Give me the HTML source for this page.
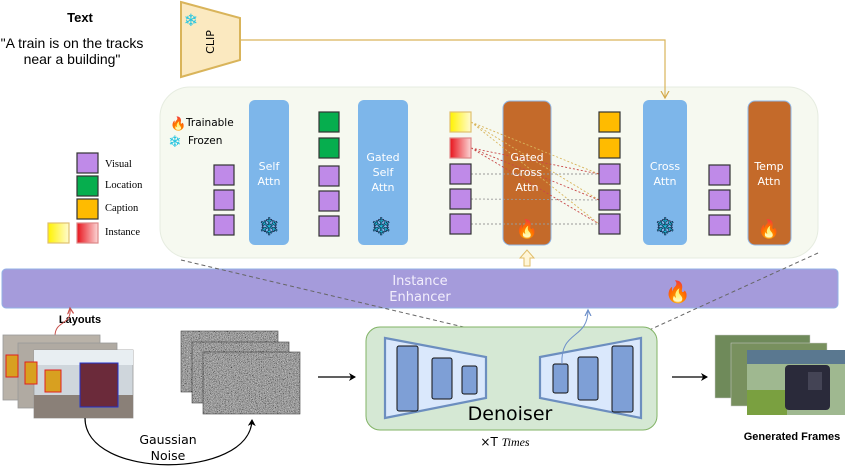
<!DOCTYPE html>
<html><head><meta charset="utf-8"><style>
html,body{margin:0;padding:0;background:#fff;width:856px;height:472px;overflow:hidden}
svg{display:block}
.t{font-family:"DejaVu Sans","Liberation Sans",sans-serif}
</style></head><body>
<svg width="856" height="472" viewBox="0 0 856 472" xmlns="http://www.w3.org/2000/svg" class="t">
<defs>
<linearGradient id="gy" x1="0" x2="1"><stop offset="0" stop-color="#fff200"/><stop offset="1" stop-color="#fffbd0"/></linearGradient>
<linearGradient id="gr" x1="0" x2="1"><stop offset="0" stop-color="#e8141c"/><stop offset="1" stop-color="#fbd6d6"/></linearGradient>
<filter id="nz" x="0" y="0" width="1" height="1"><feTurbulence type="fractalNoise" baseFrequency="1.5" numOctaves="1" seed="3"/><feColorMatrix type="matrix" values="0.33 0.33 0.33 0 0 0.33 0.33 0.33 0 0 0.33 0.33 0.33 0 0 0 0 0 0 1"/><feComponentTransfer><feFuncR type="linear" slope="2.2" intercept="-0.75"/><feFuncG type="linear" slope="2.2" intercept="-0.75"/><feFuncB type="linear" slope="2.2" intercept="-0.75"/></feComponentTransfer></filter>
<marker id="ab" markerWidth="8" markerHeight="8" refX="6" refY="4" orient="auto" markerUnits="userSpaceOnUse"><path d="M0,0 L7,4 L0,8 L2,4Z" fill="#000"/></marker>
<marker id="ao" markerWidth="10" markerHeight="10" refX="7" refY="5" orient="auto" markerUnits="userSpaceOnUse"><path d="M0,1 L7,5 L0,9" fill="none" stroke="#d2a84a" stroke-width="1.2"/></marker>
<marker id="abl" markerWidth="8" markerHeight="8" refX="6" refY="4" orient="auto" markerUnits="userSpaceOnUse"><path d="M0,1 L6,4 L0,7" fill="none" stroke="#6d8fc9" stroke-width="1.2"/></marker>
<marker id="ar" markerWidth="8" markerHeight="8" refX="6" refY="4" orient="auto" markerUnits="userSpaceOnUse"><path d="M0,1 L6,4 L0,7" fill="none" stroke="#c8504a" stroke-width="1.2"/></marker>
</defs>

<text x="80" y="22" font-size="13" font-weight="bold" text-anchor="middle" font-family="Liberation Sans,sans-serif">Text</text>
<text x="72" y="48" font-size="14" text-anchor="middle" font-family="Liberation Sans,sans-serif">"A train is on the tracks</text>
<text x="72" y="64" font-size="14" text-anchor="middle" font-family="Liberation Sans,sans-serif">near a building"</text>

<path d="M181,2 L240,18 L240,60 L181,77Z" fill="#fbe9c0" stroke="#d9b45a" stroke-width="2"/>
<text x="0" y="0" font-size="11" text-anchor="middle" transform="translate(214,42) rotate(-90)">CLIP</text>
<text x="191" y="26" font-size="17" fill="#27c5e0" text-anchor="middle">❄</text>

<rect x="160" y="87" width="658" height="171" rx="30" fill="#f6f9f0" stroke="#e6ece0"/>
<path d="M240,40 L665,40 L665,98" fill="none" stroke="#d9b45a" stroke-width="1.2" marker-end="url(#ao)"/>
<text x="170" y="128" font-size="13">🔥</text>
<text x="186" y="126" font-size="10.5">Trainable</text>
<text x="175" y="147" font-size="16" fill="#27c5e0" text-anchor="middle">❄</text>
<text x="188" y="144" font-size="10.5">Frozen</text>

<g stroke="#333" stroke-width="1.2">
<rect x="77" y="153" width="21" height="20" fill="#bf8ae8"/>
<rect x="77" y="176" width="21" height="20" fill="#06ae4e"/>
<rect x="77" y="199" width="21" height="20" fill="#ffbb00"/>
<rect x="77" y="223" width="21" height="20" fill="url(#gr)" stroke="#d88"/>
<rect x="48" y="223" width="21" height="20" fill="url(#gy)" stroke="#e0c070"/>
</g>
<g font-family="Liberation Serif,serif" font-size="10.5">
<text x="105" y="167">Visual</text><text x="105" y="188">Location</text><text x="105" y="211">Caption</text><text x="105" y="235">Instance</text>
</g>

<rect x="249" y="100" width="40" height="145" rx="6" fill="#7db6ea"/>
<rect x="358" y="100" width="50" height="145" rx="6" fill="#7db6ea"/>
<rect x="503" y="101" width="48" height="144" rx="7" fill="#c46a2a" stroke="#8fb6e6"/>
<rect x="643" y="100" width="44" height="145" rx="6" fill="#7db6ea"/>
<rect x="748" y="101" width="43" height="144" rx="7" fill="#c46a2a" stroke="#8fb6e6"/>

<g stroke-dasharray="2,2" stroke-width="0.9" fill="none">
<g stroke="#d8b45a"><path d="M471,122 L599,174 M471,122 L599,200 M471,122 L599,224"/></g>
<g stroke="#c84848"><path d="M471,148 L599,174 M471,148 L599,200 M471,148 L599,224"/></g>
<g stroke="#999"><path d="M471,174 L599,174 M471,199 L599,200 M471,224 L599,224"/></g>
</g>

<g fill="#fff" font-size="11" text-anchor="middle">
<text x="269" y="170">Self</text><text x="269" y="185">Attn</text>
<text x="383" y="161">Gated</text><text x="383" y="176">Self</text><text x="383" y="191">Attn</text>
<text x="527" y="161">Gated</text><text x="527" y="176">Cross</text><text x="527" y="191">Attn</text>
<text x="665" y="170">Cross</text><text x="665" y="185">Attn</text>
<text x="769" y="170">Temp</text><text x="769" y="185">Attn</text>
</g>
<g font-size="24" text-anchor="middle" fill="#1fc0dc" stroke="#113" stroke-width="0.6">
<text x="269" y="235">❄</text><text x="381" y="235">❄</text><text x="665" y="235">❄</text>
</g>
<text x="527" y="235" font-size="18" text-anchor="middle">🔥</text>
<text x="769" y="235" font-size="18" text-anchor="middle">🔥</text>

<g stroke="#333" stroke-width="1.2" fill="#bf8ae8">
<rect x="214" y="165" width="20" height="20"/><rect x="214" y="190" width="20" height="20"/><rect x="214" y="215" width="20" height="20"/>
<rect x="319" y="112" width="20" height="20" fill="#06ae4e"/><rect x="319" y="138" width="20" height="20" fill="#06ae4e"/>
<rect x="319" y="166" width="20" height="20"/><rect x="319" y="191" width="20" height="20"/><rect x="319" y="216" width="20" height="20"/>
<rect x="450" y="112" width="21" height="20" fill="url(#gy)" stroke="#e0c070"/><rect x="450" y="138" width="21" height="20" fill="url(#gr)" stroke="#d88"/>
<rect x="450" y="164" width="21" height="20"/><rect x="450" y="189" width="21" height="20"/><rect x="450" y="214" width="21" height="20"/>
<rect x="599" y="112" width="21" height="20" fill="#ffbb00"/><rect x="599" y="138" width="21" height="20" fill="#ffbb00"/>
<rect x="599" y="164" width="21" height="20"/><rect x="599" y="190" width="21" height="20"/><rect x="599" y="214" width="21" height="20"/>
<rect x="709" y="165" width="21" height="20"/><rect x="709" y="190" width="21" height="20"/><rect x="709" y="215" width="21" height="20"/>
</g>

<path d="M524,266 L524,258 L520,258 L527,250 L534,258 L530,258 L530,266Z" fill="#fff6d8" stroke="#e0bd6a"/>

<rect x="2" y="269" width="836" height="39" rx="4" fill="#a59bdb" stroke="#93b2e6"/>
<text x="420" y="285" font-size="13" fill="#f2eefc" text-anchor="middle">Instance</text>
<text x="420" y="301" font-size="13" fill="#f2eefc" text-anchor="middle">Enhancer</text>
<text x="678" y="299" font-size="21" text-anchor="middle">🔥</text>

<path d="M181,260 L590,357 M818,253 L590,357" stroke="#666" stroke-width="1" stroke-dasharray="4,3" fill="none"/>

<text x="80" y="323" font-size="11" font-weight="bold" text-anchor="middle" font-family="Liberation Sans,sans-serif">Layouts</text>
<path d="M55,336 C55,320 72,326 70,308" stroke="#c8504a" fill="none" stroke-width="1" marker-end="url(#ar)"/>
<g stroke="#999" stroke-width="0.8">
<rect x="3" y="335" width="97" height="65" fill="#b9b2a8"/>
<rect x="18" y="343" width="99" height="65" fill="#b0aaa2"/>
<rect x="34" y="350" width="99" height="68" fill="#cfd6dc"/>
</g>
<rect x="34" y="395" width="99" height="23" fill="#8a8078"/>
<rect x="34" y="350" width="99" height="15" fill="#e8eef2"/>
<rect x="80" y="363" width="38" height="44" fill="#6b2a3a" stroke="#2233cc" stroke-width="1"/>
<rect x="6" y="355" width="12" height="22" fill="#d8a020" stroke="#e02020"/>
<rect x="25" y="362" width="12" height="22" fill="#d8a020" stroke="#e02020"/>
<rect x="45" y="370" width="16" height="22" fill="#d8a020" stroke="#e02020"/>

<path d="M85,418 C85,480 250,480 252,420" fill="none" stroke="#000" stroke-width="1.2" marker-end="url(#ab)"/>
<text x="168" y="444" font-size="12.5" text-anchor="middle">Gaussian</text>
<text x="168" y="460" font-size="12.5" text-anchor="middle">Noise</text>

<rect x="181" y="331" width="97" height="61" fill="#777" filter="url(#nz)"/>
<rect x="181" y="331" width="97" height="61" fill="none" stroke="#444" stroke-width="0.6"/>
<rect x="192" y="342" width="97" height="61" fill="#777" filter="url(#nz)"/>
<rect x="192" y="342" width="97" height="61" fill="none" stroke="#444" stroke-width="0.6"/>
<rect x="203" y="352" width="97" height="62" fill="#777" filter="url(#nz)"/>
<rect x="203" y="352" width="97" height="62" fill="none" stroke="#444" stroke-width="0.6"/>

<path d="M318,377 L355,377" stroke="#000" stroke-width="1.3" marker-end="url(#ab)"/>
<path d="M672,377 L707,377" stroke="#000" stroke-width="1.3" marker-end="url(#ab)"/>

<rect x="366" y="327" width="291" height="103" rx="14" fill="#d5e8d4" stroke="#82b366" stroke-width="1"/>
<path d="M385,338 L486,357 L486,398 L385,418Z" fill="#dae8fc" stroke="#6c8ebf" stroke-width="2.2"/>
<path d="M540,357 L641,338 L641,418 L540,398Z" fill="#dae8fc" stroke="#6c8ebf" stroke-width="2.2"/>
<g fill="#7e9fd6" stroke="#111" stroke-width="1">
<rect x="397" y="346" width="21" height="65" rx="2"/>
<rect x="432" y="358" width="20" height="41" rx="2"/>
<rect x="462" y="366" width="15" height="28" rx="2"/>
<rect x="553" y="364" width="15" height="29" rx="2"/>
<rect x="578" y="357" width="20" height="43" rx="2"/>
<rect x="612" y="346" width="21" height="66" rx="2"/>
</g>
<text x="510" y="420" font-size="19" text-anchor="middle">Denoiser</text>
<path d="M562,364 C560,330 588,340 588,310" stroke="#6d8fc9" fill="none" stroke-width="1" marker-end="url(#abl)"/>
<text x="505" y="446" font-size="12" text-anchor="middle">×T <tspan font-family="Liberation Serif,serif" font-style="italic">Times</tspan></text>

<rect x="715" y="335" width="95" height="63" fill="#6f8a5a" stroke="#ccc" stroke-width="0.5"/>
<rect x="731" y="343" width="96" height="63" fill="#78905e" stroke="#ccc" stroke-width="0.5"/>
<rect x="747" y="350" width="98" height="65" fill="#9fb890"/>
<rect x="747" y="350" width="98" height="14" fill="#5a7890"/>
<rect x="747" y="390" width="40" height="25" fill="#7aa040"/>
<rect x="785" y="365" width="45" height="45" rx="4" fill="#2a2a3a"/>
<rect x="808" y="372" width="14" height="18" fill="#445"/>
<text x="792" y="440" font-size="11" font-weight="bold" text-anchor="middle" font-family="Liberation Sans,sans-serif">Generated Frames</text>
</svg>
</body></html>
